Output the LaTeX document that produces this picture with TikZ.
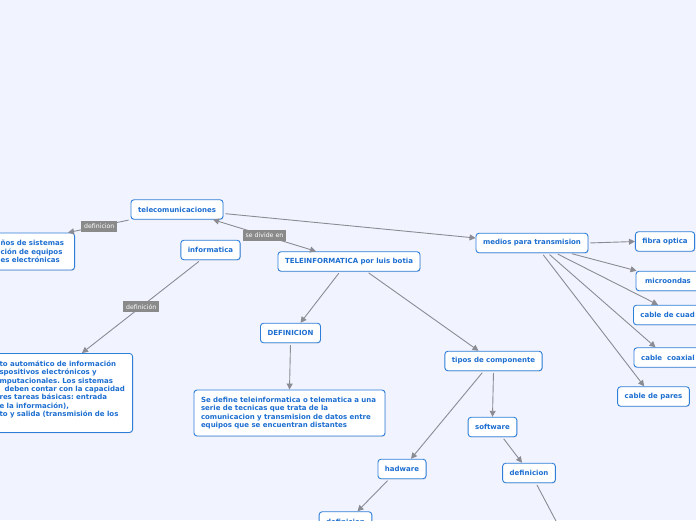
\documentclass[tikz,border=0pt]{standalone}
\usepackage{fontspec}
\setmainfont{DejaVu Sans}
\usepackage{xcolor}
\usetikzlibrary{positioning, arrows.meta, shapes, calc, shadows}

\definecolor{mapbg}{HTML}{F1F4FE}
\definecolor{mapblue}{HTML}{2F7FD9}
\definecolor{maptext}{HTML}{1C6ED1}
\definecolor{mapgray}{HTML}{8B8B93}
\definecolor{labelgray}{HTML}{8A8A8A}

\begin{document}
\frenchspacing
\begin{tikzpicture}[
        x=1pt, y=-1pt,
        topic/.style={rectangle, rounded corners=3pt, draw=mapblue, line width=0.9pt, fill=white,
            text=maptext, font=\fontsize{7}{8.4}\selectfont\bfseries, inner xsep=7pt, minimum height=19.5pt,
            drop shadow={opacity=0.2, shadow xshift=0.6pt, shadow yshift=-0.8pt}},
        linklabel/.style={fill=labelgray, text=white, font=\fontsize{6.2}{7}\selectfont, inner xsep=3pt,
            inner ysep=1pt, minimum height=11pt},
        link/.style={draw=mapgray, line width=0.9pt, shorten <=2pt, -{Triangle[length=6pt,width=6pt]}}
    ]

    % canvas (the map is cut at the edges)
    \useasboundingbox (0,0) rectangle (696,520);
    \clip (0,0) rectangle (696,520);
    \fill[mapbg] (0,0) rectangle (696,520);

    % --------------------------------------------------
    % main topics
    \node[topic] (tele) at (177,209.5) {telecomunicaciones};
    \node[topic] (info) at (210.5,250) {informatica};
    \node[topic] (teleinfo) at (349,261.5) {TELEINFORMATICA por luis botia};
    \node[topic] (medios) at (532,243) {medios para transmision};

    % left side, cut by the border
    \node[topic, anchor=east, text width=70pt, inner xsep=4pt, align=left, minimum height=37pt]
        (defcom) at (75,251.5) {ños de sistemas\\ción de equipos\\es electrónicas};
    \node[topic, anchor=north east, text width=130pt, inner xsep=3pt, align=left, minimum height=79pt]
        (definf) at (133,353) {to automático de información\\spositivos electrónicos y\\mputacionales. Los sistemas\\
        \hspace*{5pt}deben contar con la capacidad\\res tareas básicas: entrada\\e la información),\\
        to y salida (transmisión de los\\ \mbox{}};

    % --------------------------------------------------
    % medios para transmision
    \node[topic] (fibra) at (665,241.5) {fibra optica};
    \node[topic, minimum width=64pt] (micro) at (668,281) {microondas};
    \node[topic, anchor=west, text width=72pt, align=left] (cuad) at (633,315) {cable de cuad};
    \node[topic, minimum width=68pt] (coax) at (668,357.5) {cable~ coaxial};
    \node[topic] (pares) at (653.5,396.5) {cable de pares};

    % --------------------------------------------------
    % TELEINFORMATICA
    \node[topic] (defin) at (290.5,333) {DEFINICION};
    \node[topic, text width=177pt, align=left, minimum height=46pt] (sedefine) at (289.5,413)
        {Se define teleinformatica o telematica a una\\serie de tecnicas que trata de la\\
         comunicacion y transmision de datos entre\\equipos que se encuentran distantes};
    \node[topic] (tipos) at (493.5,361) {tipos de componente};
    \node[topic] (software) at (492.5,427) {software};
    \node[topic] (hadware) at (402,469) {hadware};
    \node[topic] (defsoft) at (529,473) {definicion};
    \node[topic] (defhard) at (345.5,521.5) {definicion};
    \coordinate (softend) at (566,540);

    % --------------------------------------------------
    % connectors
    \draw[link] (tele.south west) -- ([xshift=-7pt]defcom.north east)
        node[linklabel, midway] (lbldef) {definicion};
    \draw[link, {Triangle[length=6pt,width=6pt]}-{Triangle[length=6pt,width=6pt]}, shorten <=0pt]
        ([xshift=36pt]tele.south) -- ([xshift=-33pt]teleinfo.north)
        node[linklabel, midway] (lbldiv) {se divide en};
    \draw[link] ([yshift=-4pt]tele.east) -- ([yshift=5pt]medios.west);
    \draw[link] ([xshift=-10pt]info.south) -- ([xshift=-51pt]definf.north east)
        node[linklabel, midway] (lblinf) {definición};

    \draw[link] (medios.east) -- (fibra.west);
    \foreach \dst/\sx/\ex in {micro/38/1, cuad/24/25, coax/16/22, pares/10/27} {
        \draw[link] ([xshift=\sx pt]medios.south) -- ([xshift=\ex pt]\dst.north west);
    }

    \draw[link] ([xshift=-9pt]teleinfo.south) -- ([xshift=10pt]defin.north);
    \draw[link] ([xshift=18pt]teleinfo.south) -- ([xshift=-15pt]tipos.north);
    \draw[link] (defin.south) -- (sedefine.north);
    \draw[link] ([xshift=-10pt]tipos.south) -- ([xshift=9pt]hadware.north);
    \draw[link] (tipos.south) -- (software.north);
    \draw[link] ([xshift=10pt]software.south) -- ([xshift=-7pt]defsoft.north);
    \draw[link] ([xshift=-13pt]hadware.south) -- ([xshift=12pt]defhard.north);
    \draw[link] ([xshift=7pt]defsoft.south) -- (softend);

\end{tikzpicture}
\end{document}
